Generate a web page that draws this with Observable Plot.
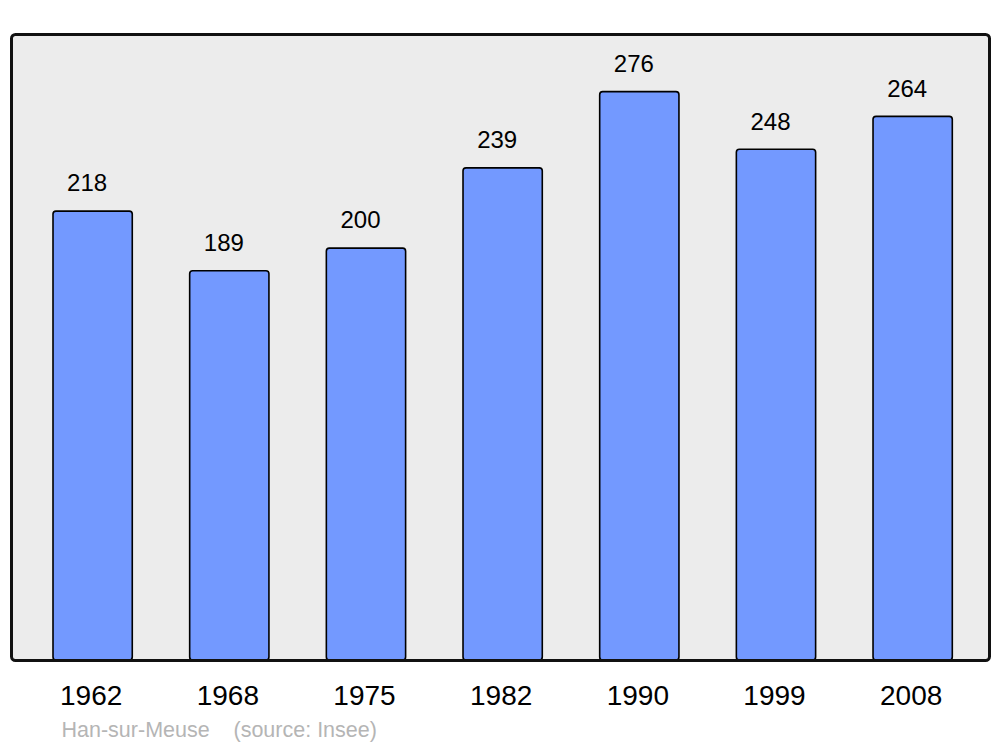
<!DOCTYPE html>
<html>
<head>
<meta charset="utf-8">
<script src="https://cdn.jsdelivr.net/npm/d3@7"></script>
<script src="https://cdn.jsdelivr.net/npm/@observablehq/plot@0.6"></script>
<style>
  html, body { margin: 0; padding: 0; background: #ffffff; }
  svg { display: block; }
</style>
</head>
<body>
<div id="chart"></div>
<script>
const years = ["1962", "1968", "1975", "1982", "1990", "1999", "2008"];
const population = [218, 189, 200, 239, 276, 248, 264];
const place = "Han-sur-Meuse";
const source = "(source: Insee)";

const data = years.map((y, i) => ({year: y, value: population[i]}));

const chart = Plot.plot({
  width: 1000,
  height: 747,
  marginTop: 34,
  marginBottom: 87,
  marginLeft: 11,
  marginRight: 11,
  style: {fontFamily: "'Liberation Sans', Arial, sans-serif", background: "#ffffff", color: "#000"},
  x: {domain: years, range: [24.3, 981], padding: 0.42, paddingOuter: 0.21, round: false, label: null},
  y: {domain: [0, 304], axis: null},
  marks: [
    Plot.frame({fill: "#ececec", stroke: "none", rx: 4}),
    Plot.barY(data, {x: "year", y: "value", fill: "#7399ff", stroke: "#000", strokeWidth: 1.6, rx: 3}),
    Plot.frame({stroke: "#111", strokeWidth: 3, rx: 4}),
    Plot.text(data, {x: "year", y: "value", text: d => String(d.value), dy: -28, dx: -6, fontSize: 24, fill: "#000"}),
    Plot.axisX({tickSize: 0, tickPadding: 25, fontSize: 28, dx: -2, label: null}),
    Plot.text([place], {frameAnchor: "bottom-left", dx: 50, dy: 76, textAnchor: "start", fontSize: 21.5, fill: "#b5b5b5"}),
    Plot.text([source], {frameAnchor: "bottom-left", dx: 222, dy: 76, textAnchor: "start", fontSize: 21.5, fill: "#b5b5b5"})
  ]
});
document.getElementById("chart").appendChild(chart);
</script>
</body>
</html>
